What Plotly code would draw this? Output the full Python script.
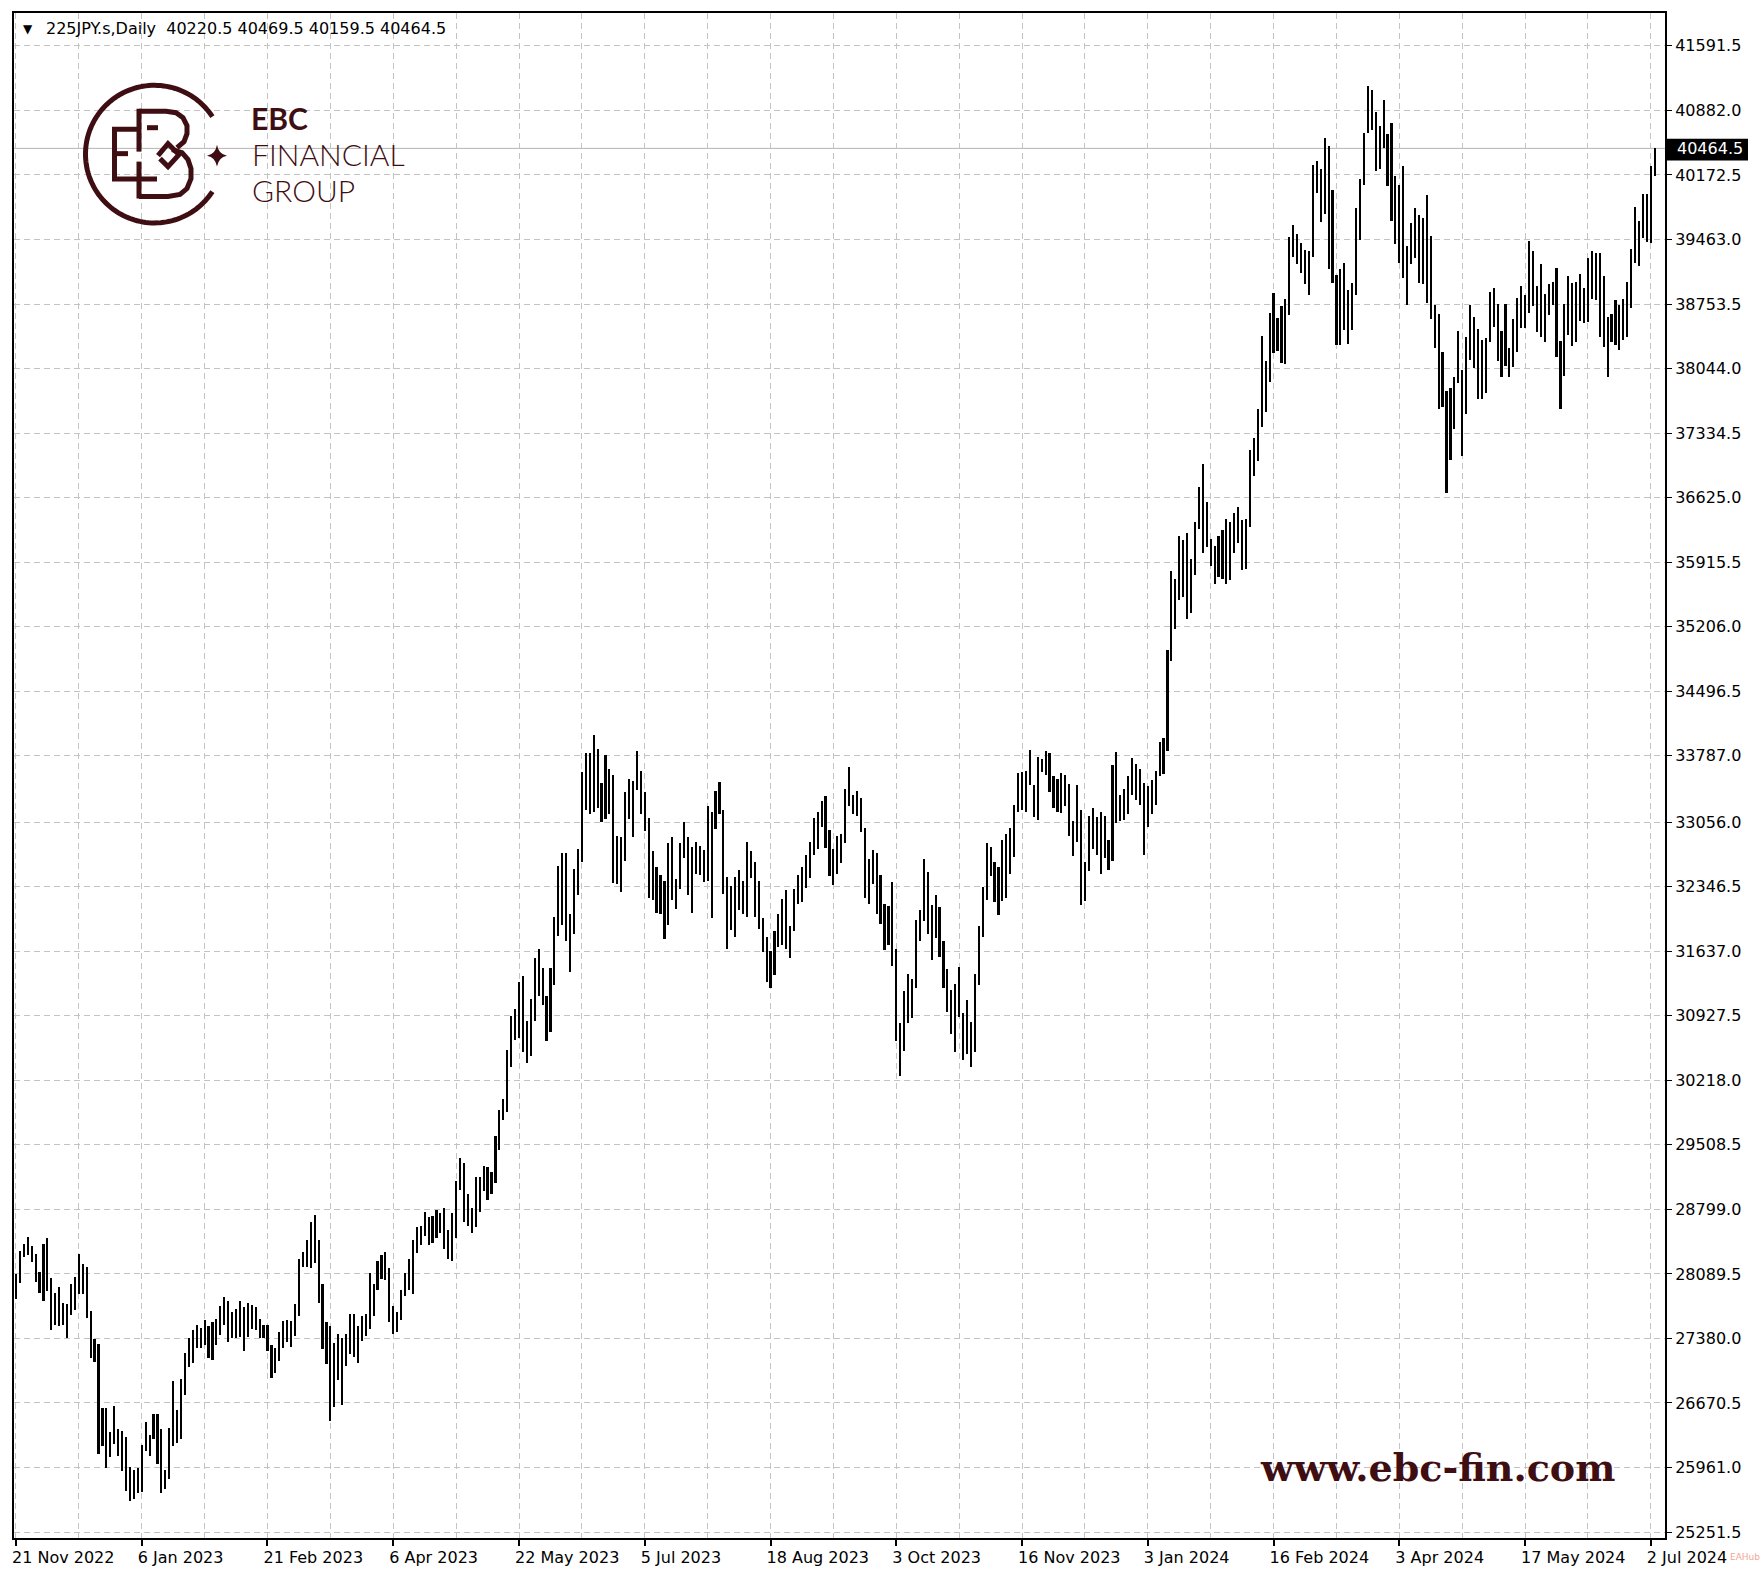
import numpy as np
import plotly.graph_objects as go

# ---------------- data (daily bars) ----------------
highs = [
    28089, 28344, 28417, 28500, 28399, 28308, 28115, 28417, 28479, 28049,
    27882, 27944, 27773, 27754, 27980, 28053, 28308, 28198, 28162, 27685,
    27369, 27314, 26616, 26616, 26354, 26641, 26379, 26361, 26295, 25968,
    25932, 25961, 26204, 26463, 26317, 26550, 26550, 26379, 25932, 26397,
    26914, 26597, 26936, 27216, 27380, 27471, 27533, 27496, 27580, 27518,
    27562, 27598, 27733, 27835, 27787, 27671, 27707, 27787, 27726, 27773,
    27751, 27726, 27591, 27533, 27533, 27307, 27271, 27453, 27569, 27580,
    27569, 27757, 28249, 28335, 28460, 28661, 28737, 28460, 27983, 27556,
    27516, 27330, 27430, 27380, 27430, 27646, 27646, 27516, 27631, 27646,
    28099, 27983, 28234, 28300, 28335, 28159, 27732, 27667, 27908, 28099,
    28249, 28460, 28601, 28621, 28772, 28712, 28722, 28787, 28762, 28812,
    28571, 28762, 29114, 29365, 29305, 28963, 28812, 29154, 29154, 29275,
    29264, 29214, 29606, 29893, 30008, 30546, 30923, 30998, 31300, 31365,
    30872, 31114, 31566, 31666, 31450, 31149, 31450, 32018, 32571, 32722,
    32715, 32050, 32543, 32763, 33604, 33816, 33816, 34013, 33860, 33487,
    33794, 33640, 33575, 32909, 32891, 33384, 33531, 33512, 33834, 33622,
    33392, 33099, 32734, 32562, 32478, 32415, 32829, 32891, 32434, 32829,
    33055, 32891, 32781, 32843, 32792, 32755, 33231, 33165, 33403, 33494,
    33194, 32452, 32353, 32452, 32536, 32415, 32843, 32734, 32624, 32415,
    32002, 31794, 31636, 31856, 32050, 32214, 32306, 31914, 32324, 32478,
    32562, 32690, 32843, 33099, 33165, 33293, 33341, 32975, 32763, 32909,
    32927, 33421, 33659, 33355, 33403, 33319, 32989, 32653, 32755, 32719,
    32478, 32159, 32134, 32404, 31658, 30843, 31198, 31391, 31337, 31977,
    32086, 32646, 32514, 32141, 32258, 32123, 31746, 31446, 31209, 31282,
    31465, 30953, 31099, 30861, 31391, 31914, 32342, 32829, 32781, 32624,
    32562, 32865, 32927, 32989, 33245, 33597, 33611, 33622, 33853, 33465,
    33768, 33750, 33834, 33816, 33567, 33531, 33597, 33575, 33476, 33074,
    33465, 33194, 32624, 33121, 33209, 33110, 33165, 33121, 32865, 33684,
    33831, 33355, 33421, 33566, 33767, 33692, 33641, 33490, 33450, 33516,
    33616, 33943, 33978, 34949, 35818, 35728, 36206, 36155, 36241, 35954,
    36356, 36744, 36995, 36573, 36170, 36090, 36206, 36271, 36392, 36356,
    36457, 36522, 36382, 36392, 37146, 37277, 37598, 38403, 38131, 38654,
    38870, 38604, 38735, 38805, 39489, 39625, 39524, 39423, 39348, 39338,
    40278, 40329, 40243, 40580, 40494, 40012, 39072, 39137, 39207, 38906,
    38986, 39811, 40127, 40630, 41148, 41108, 40867, 40716, 40997, 40620,
    40745, 40160, 40067, 40268, 39391, 39647, 39804, 39731, 39694, 39950,
    39501, 38744, 38649, 38222, 37794, 37831, 37948, 38459, 38028, 38394,
    38744, 38613, 38478, 38357, 38379, 38890, 38934, 38759, 38459, 38752,
    38269, 38587, 38825, 38953, 38854, 39446, 39336, 38953, 39190, 38868,
    38978, 39000, 39146, 38350, 38759, 39062, 38989, 39000, 39080, 38934,
    39256, 39336, 39318, 39318, 39062, 38613, 38649, 38795, 38744, 38806,
    39000, 39354, 39818, 39665, 39965, 39965, 40268, 40469.5,
]
lows = [
    27816, 27991, 28271, 28297, 28224, 28006, 27882, 27794, 27907, 27474,
    27525, 27518, 27533, 27387, 27634, 27689, 27871, 27864, 27605, 27169,
    27118, 26106, 26197, 25961, 26077, 26216, 26088, 25925, 25699, 25597,
    25615, 25677, 25688, 26143, 26088, 26270, 25997, 25680, 25724, 25830,
    26197, 26234, 26270, 26761, 27071, 27107, 27271, 27271, 27307, 27169,
    27143, 27307, 27416, 27525, 27343, 27387, 27380, 27398, 27242, 27398,
    27489, 27471, 27380, 27380, 27242, 26943, 26998, 27132, 27271, 27343,
    27289, 27405, 27631, 28169, 28169, 28159, 28209, 27767, 27265, 27104,
    26476, 26626, 26928, 26651, 27079, 27214, 27179, 27114, 27355, 27405,
    27481, 27631, 27908, 28033, 28018, 27566, 27430, 27455, 27581, 27847,
    27918, 27868, 28320, 28410, 28511, 28410, 28435, 28486, 28536, 28360,
    28259, 28234, 28486, 29013, 28661, 28611, 28536, 28601, 28772, 29003,
    28903, 28963, 29089, 29455, 29777, 29867, 30360, 30661, 30682, 30531,
    30410, 30481, 30872, 31149, 31048, 30646, 30747, 31264, 31802, 31928,
    31755, 31410, 31830, 32251, 32624, 33194, 33147, 33172, 33209, 33063,
    33092, 33147, 32390, 32379, 32287, 32635, 33092, 32891, 33414, 33147,
    32964, 32222, 32196, 32061, 32050, 31775, 31922, 32196, 32097, 32317,
    32660, 32251, 32061, 32489, 32478, 32397, 32415, 32002, 32982, 33147,
    32269, 31658, 31867, 31794, 32086, 32050, 32013, 32441, 32013, 31885,
    31629, 31300, 31234, 31380, 31684, 31702, 31658, 31563, 31856, 32159,
    32178, 32331, 32441, 32697, 32763, 33000, 32770, 32463, 32368, 32489,
    32609, 32829, 33238, 33147, 33128, 32953, 32222, 32159, 32379, 32050,
    31940, 31647, 31702, 31476, 30649, 30269, 30539, 30843, 30905, 31234,
    31746, 31966, 31830, 31538, 31783, 31574, 31234, 30971, 30722, 30525,
    30916, 30441, 30503, 30367, 30525, 31271, 31794, 32196, 32463, 32178,
    32031, 32185, 32222, 32489, 32671, 33172, 33194, 33172, 33465, 33110,
    33085, 33611, 33575, 33392, 33209, 33172, 33158, 33231, 32902, 32682,
    32843, 32141, 32185, 32525, 32763, 32697, 32489, 32660, 32536, 32635,
    33048, 33074, 33085, 33150, 33350, 33300, 33250, 32700, 33000, 33150,
    33250, 33566, 33591, 33843, 34833, 35175, 35502, 35527, 35285, 35351,
    35778, 36281, 36020, 36080, 35869, 35678, 35753, 35728, 35678, 35718,
    36020, 36130, 35828, 35838, 36306, 36859, 37025, 37397, 37563, 37900,
    38217, 38232, 38101, 38091, 38634, 39273, 39197, 39097, 38971, 38855,
    39273, 39977, 39650, 39740, 39137, 38986, 38302, 38302, 38468, 38317,
    38468, 38855, 39459, 40062, 40630, 40665, 40213, 40243, 40464, 40055,
    39670, 39415, 39208, 39044, 38744, 39197, 39256, 38989, 38978, 38770,
    38587, 38269, 37601, 37626, 36676, 37042, 37382, 37882, 37078, 37539,
    38138, 38050, 37710, 37710, 37772, 38331, 38503, 38123, 37955, 38076,
    37955, 38065, 38222, 38489, 38489, 38660, 38733, 38441, 38394, 38331,
    38635, 38744, 38167, 37601, 37966, 38415, 38295, 38331, 38562, 38540,
    38551, 38806, 38795, 38394, 38284, 37948, 38331, 38306, 38247, 38357,
    38394, 38708, 39208, 39172, 39475, 39438, 39427, 40159.5,
]

x_tick_bars = [0, 32, 64, 96, 128, 160, 192, 224, 256, 288, 320, 352, 384, 416]
x_tick_labels = ["21 Nov 2022", "6 Jan 2023", "21 Feb 2023", "6 Apr 2023",
                 "22 May 2023", "5 Jul 2023", "18 Aug 2023", "3 Oct 2023",
                 "16 Nov 2023", "3 Jan 2024", "16 Feb 2024", "3 Apr 2024",
                 "17 May 2024", "2 Jul 2024"]
y_tick_labels = ["41591.5", "40882.0", "40172.5", "39463.0", "38753.5", "38044.0",
                 "37334.5", "36625.0", "35915.5", "35206.0", "34496.5", "33787.0",
                 "33056.0", "32346.5", "31637.0", "30927.5", "30218.0", "29508.5",
                 "28799.0", "28089.5", "27380.0", "26670.5", "25961.0", "25251.5"]

symbol_text = "225JPY.s,Daily"
last_ohlc = ["40220.5", "40469.5", "40159.5", "40464.5"]
last_price = 40464.5

# ---------------- layout geometry ----------------
W, H = 1761, 1578
PL, PR, PT, PB = 14, 1665, 11, 1540          # plot frame in page pixels
MAROON = "#3f0e12"
GRID = "#c3c3c3"
AXFONT = dict(family="DejaVu Sans", size=16, color="black")


def px(x):
    return (x - PL) / (PR - PL)


def py(y):
    return (PB - y) / (PB - PT)


def ppath(points, close=False):
    s = "M " + " L ".join(f"{px(x):.5f},{py(y):.5f}" for x, y in points)
    return s + (" Z" if close else "")


bars = list(range(len(highs)))
fig = go.Figure(go.Bar(
    x=bars,
    y=[h - l for h, l in zip(highs, lows)],
    base=lows,
    width=0.55,
    marker=dict(color="black", line=dict(width=0)),
    hoverinfo="skip",
))

fig.update_layout(
    width=W, height=H,
    margin=dict(l=PL, r=W - PR, t=PT, b=H - PB, pad=0),
    paper_bgcolor="white", plot_bgcolor="white",
    showlegend=False, bargap=0,
)

fig.update_xaxes(
    range=[-0.5, 419.6], tickmode="array",
    tickvals=x_tick_bars, ticktext=x_tick_labels,
    ticklabelposition="outside right", ticklabelshift=-6, ticklabelstandoff=4,
    ticks="outside", ticklen=6, tickwidth=2, tickcolor="black",
    showline=True, linewidth=2, linecolor="black", mirror=True,
    showgrid=True, gridcolor=GRID, griddash="6px,4px", gridwidth=1,
    minor=dict(tick0=0, dtick=16, showgrid=True, gridcolor=GRID,
               griddash="6px,4px", gridwidth=1, ticks=""),
    zeroline=False, tickfont=AXFONT, fixedrange=True,
)
fig.update_yaxes(
    side="right", range=[25186, 41953], tickmode="array",
    tickvals=[float(t) for t in y_tick_labels], ticktext=y_tick_labels,
    ticks="outside", ticklen=5, tickwidth=1, tickcolor="black",
    showline=True, linewidth=2, linecolor="black", mirror=True,
    showgrid=True, gridcolor=GRID, griddash="6px,4px", gridwidth=1,
    zeroline=False, tickfont=AXFONT, fixedrange=True,
)

shapes = []
# current price line
shapes.append(dict(type="line", xref="paper", yref="y", x0=0, x1=1,
                   y0=last_price, y1=last_price, layer="below",
                   line=dict(color="#b4b4b4", width=1)))
# current price box on the axis
shapes.append(dict(type="rect", xref="paper", yref="paper",
                   x0=px(1666), x1=px(1748), y0=py(159), y1=py(137),
                   fillcolor="black", line=dict(width=0)))

# ---- EBC logo (decorative) ----
cx, cy, r = 154.5, 152.5, 69
ang = np.radians(np.linspace(33, 327, 120))
arc = [(cx + r * np.cos(a), cy - r * np.sin(a)) for a in ang]
shapes.append(dict(type="path", xref="paper", yref="paper", path=ppath(arc),
                   line=dict(color=MAROON, width=5)))
logo_strokes = [
    [(137, 127.5), (114.5, 127.5), (114.5, 177.5), (157, 177.5)],
    [(114.5, 152), (128, 152)],
    [(147, 126), (158, 126)],
    [(139, 107), (139, 150)],
    [(139, 160), (139, 197)],
    [(139, 109.5), (166, 109.5), (176, 111), (183, 116), (187, 124), (187, 132),
     (184, 140), (177, 146)],
    [(172, 148), (182, 151), (188, 158), (191, 167), (191, 177), (187, 187),
     (180, 193), (168, 195), (139, 195)],
    [(158, 154), (168, 142), (179, 153), (168, 165), (160, 157)],
]
for st in logo_strokes:
    shapes.append(dict(type="path", xref="paper", yref="paper", path=ppath(st),
                       line=dict(color=MAROON, width=5)))
# four-pointed star
sx, sy = 217, 154
star = (f"M {px(sx):.5f},{py(sy-11):.5f} "
        f"Q {px(sx+1.5):.5f},{py(sy-1.5):.5f} {px(sx+10):.5f},{py(sy):.5f} "
        f"Q {px(sx+1.5):.5f},{py(sy+1.5):.5f} {px(sx):.5f},{py(sy+11):.5f} "
        f"Q {px(sx-1.5):.5f},{py(sy+1.5):.5f} {px(sx-10):.5f},{py(sy):.5f} "
        f"Q {px(sx-1.5):.5f},{py(sy-1.5):.5f} {px(sx):.5f},{py(sy-11):.5f} Z")
shapes.append(dict(type="path", xref="paper", yref="paper", path=star,
                   fillcolor=MAROON, line=dict(width=0)))
fig.update_layout(shapes=shapes)

annotations = [
    dict(text="\u25BC", x=px(21), y=py(27), font=dict(family="DejaVu Sans", size=12, color="black")),
    dict(text=symbol_text + "\u00a0\u00a0" + " ".join(last_ohlc), x=px(44), y=py(27),
         font=dict(family="DejaVu Sans", size=16, color="black")),
    dict(text="EBC", x=px(249), y=py(116.5),
         font=dict(family="Lato", size=30, color=MAROON, weight=700)),
    dict(text="FINANCIAL", x=px(250), y=py(152.5),
         font=dict(family="Lato", size=30, color=MAROON, weight=300)),
    dict(text="GROUP", x=px(250), y=py(188.5),
         font=dict(family="Lato", size=30, color=MAROON, weight=300)),
    dict(text="www.ebc-fin.com", x=px(1437), y=py(1469), xanchor="center",
         font=dict(family="DejaVu Serif", size=38, color=MAROON, weight=700)),
    dict(text=f"{last_price:.1f}", x=px(1675), y=last_price, yref="y",
         font=dict(family="DejaVu Sans", size=16, color="white")),
    dict(text="EAHub", x=px(1728), y=py(1559),
         font=dict(family="DejaVu Sans", size=9, color="#f2907a"), opacity=0.8),
]
for a in annotations:
    a.setdefault("xref", "paper")
    a.setdefault("yref", "paper")
    a.setdefault("xanchor", "left")
    a.setdefault("yanchor", "middle")
    a["showarrow"] = False
fig.update_layout(annotations=annotations)

fig.write_html("out.html", config={"displayModeBar": False},
               post_script="document.body.style.margin='0';")
